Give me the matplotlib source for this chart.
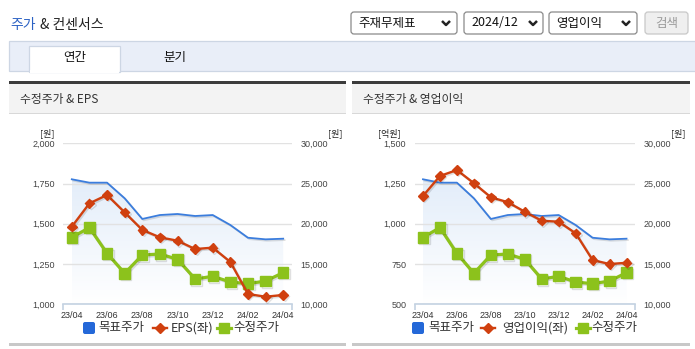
import numpy as np
import matplotlib
matplotlib.use("Agg")
import matplotlib.pyplot as plt
from matplotlib.patches import Rectangle, FancyBboxPatch, Polygon
from matplotlib.lines import Line2D
from matplotlib.transforms import Affine2D
from matplotlib.colors import LinearSegmentedColormap
import matplotlib.patheffects as pe

plt.rcParams['font.family'] = ['Noto Sans CJK KR', 'DejaVu Sans']

# ---------------- data ----------------
months = ["23/04", "23/05", "23/06", "23/07", "23/08", "23/09", "23/10",
          "23/11", "23/12", "24/01", "24/02", "24/03", "24/04"]
tick_labels = ["23/04", "23/06", "23/08", "23/10", "23/12", "24/02", "24/04"]
target_price = [25530, 25110, 25110, 23170, 20600, 21090, 21220,
                20970, 21090, 19850, 18270, 18070, 18150]
adj_price = [18320, 19520, 16330, 13850, 16120, 16250, 15590,
             13140, 13480, 12770, 12560, 12890, 13930]
eps = [1482, 1627, 1679, 1571, 1462, 1416, 1395,
       1343, 1352, 1263, 1064, 1047, 1058]
op_profit = [1173, 1297, 1334, 1252, 1165, 1134, 1075,
             1019, 1013, 941, 775, 750, 758]

left_ticks_eps = [1000, 1250, 1500, 1750, 2000]
left_ticks_op = [500, 750, 1000, 1250, 1500]
right_ticks = [10000, 15000, 20000, 25000, 30000]

W, H = 695, 349
fig = plt.figure(figsize=(W / 100, H / 100), dpi=100)
fig.patch.set_facecolor("white")
pix = Affine2D().scale(1 / W, -1 / H).translate(0, 1) + fig.transFigure

def R(x0, y0, x1, y1, **kw):
    fig.add_artist(Rectangle((x0, y0), x1 - x0, y1 - y0, transform=pix, **kw))

def T(x, y, s, **kw):
    kw.setdefault("va", "center")
    fig.text(x, y, s, transform=pix, **kw)

# ---------------- header ----------------
T(10, 25, "주가", fontsize=10, color="#2c62c4")
T(40, 25, "& 컨센서스", fontsize=10, color="#222222")

def dropdown(x0, x1, text, chev):
    fig.add_artist(FancyBboxPatch((x0, 12), x1 - x0, 22,
                                  boxstyle="round,pad=0,rounding_size=3",
                                  transform=pix, facecolor="white",
                                  edgecolor="#8a8a8a", linewidth=0.9))
    T(x0 + 7, 23, text, fontsize=9, color="#111111")
    fig.add_artist(Line2D([chev - 4, chev, chev + 4], [21, 25, 21], transform=pix,
                          color="#222222", linewidth=1.8, solid_capstyle="butt"))

dropdown(351, 457, "주재무제표", 446)
dropdown(464, 543, "2024/12", 533)
dropdown(549, 637, "영업이익", 626)
fig.add_artist(FancyBboxPatch((645, 12), 43, 22,
                              boxstyle="round,pad=0,rounding_size=3",
                              transform=pix, facecolor="#efefef",
                              edgecolor="#c8c8c8", linewidth=0.9))
T(666.5, 23, "검색", fontsize=9, color="#9a9a9a", ha="center")

# tab bar
R(9, 41, 700, 71, facecolor="#e9eef8", edgecolor="#cdd6e4", linewidth=0.9)
R(29, 46, 120, 72, facecolor="white", edgecolor="#cdd6e4", linewidth=0.9)
R(29.6, 70, 119.4, 73, facecolor="white", edgecolor="none")
T(75, 58, "연간", fontsize=9, color="#111111", ha="center")
T(175, 58, "분기", fontsize=9, color="#111111", ha="center")

# panels
for (px0, px1, title) in [(9, 346, "수정주가 & EPS"), (352, 690, "수정주가 & 영업이익")]:
    R(px0, 81, px1, 83.5, facecolor="#3c3c3c", edgecolor="none")
    R(px0, 83.5, px1, 113, facecolor="#f3f3f3", edgecolor="none")
    R(px0, 112.5, px1, 113.7, facecolor="#d8d8d8", edgecolor="none")
    R(px0, 343, px1, 345.5, facecolor="#c8c8c8", edgecolor="none")
    T(px0 + 11, 99, title, fontsize=8.5, color="#333333")

blue = "#3b7ddd"
red = "#d0400f"
green = "#8cc21c"
tickfont = dict(family=["Liberation Sans", "DejaVu Sans"], size=6.5)
shadow = [pe.SimpleLineShadow(offset=(1, -1), shadow_color="#000000", alpha=0.12), pe.Normal()]

def make_chart(x0, x1, left_vals, left_ticks, left_name, left_unit, lx_unit, rx_unit, legend_pos):
    y_top, y_bot = 143.3, 304.3
    axR = fig.add_axes([x0 / W, 1 - y_bot / H, (x1 - x0) / W, (y_bot - y_top) / H])
    axL = axR.twinx()
    x = np.arange(len(months))

    axR.set_xlim(-0.5, len(months) - 0.5)
    axR.set_ylim(right_ticks[0], right_ticks[-1])
    axL.set_ylim(left_ticks[0], left_ticks[-1])

    # gradient fill under target price
    cmap = LinearSegmentedColormap.from_list("g", ["#ffffff", "#dbe8f8"])
    grad = np.linspace(1, 0, 256).reshape(-1, 1)
    im = axR.imshow(grad, extent=[x[0], x[-1], right_ticks[0], right_ticks[-1]],
                    aspect="auto", cmap=cmap, origin="upper", zorder=0.5)
    verts = list(zip(x, target_price)) + [(x[-1], right_ticks[0]), (x[0], right_ticks[0])]
    poly = Polygon(verts, closed=True, facecolor="none", edgecolor="none",
                   transform=axR.transData)
    axR.add_patch(poly)
    im.set_clip_path(poly)
    axR.set_xlim(-0.5, len(months) - 0.5)
    axR.set_ylim(right_ticks[0], right_ticks[-1])

    axR.plot(x, target_price, color=blue, linewidth=1.3, zorder=3, path_effects=shadow)
    axR.plot(x, adj_price, color=green, linewidth=2.3, marker="s", markersize=7.5,
             zorder=4, path_effects=shadow)
    axL.plot(x, left_vals, color=red, linewidth=1.7, marker="D", markersize=4.8,
             zorder=4, path_effects=shadow)

    axR.set_yticks(right_ticks)
    axR.set_yticklabels([f"{v:,}" for v in right_ticks])
    axL.set_yticks(left_ticks)
    axL.set_yticklabels([f"{v:,}" for v in left_ticks])
    axR.yaxis.tick_right()
    axL.yaxis.tick_left()
    axR.grid(axis="y", color="#e2e2e2", linewidth=1)
    axR.set_axisbelow(True)
    pos = [months.index(t) for t in tick_labels]
    axR.set_xticks(pos)
    axR.set_xticklabels(tick_labels)
    axR.set_xticks([-0.5, len(months) - 0.5], minor=True)
    for a in (axR, axL):
        for s in a.spines.values():
            s.set_visible(False)
        a.patch.set_visible(False)
    axR.spines["bottom"].set_visible(True)
    axR.spines["bottom"].set_color("#c4d2e2")
    axR.spines["bottom"].set_linewidth(1.2)
    axR.tick_params(axis="x", which="major", length=0, pad=5, labelcolor="#333333")
    axR.tick_params(axis="x", which="minor", length=4, color="#c4d2e2", width=1.2)
    axR.tick_params(axis="y", length=0, pad=6, labelcolor="#444444")
    axL.tick_params(axis="y", length=0, pad=6, labelcolor="#444444")
    for lab in axR.get_xticklabels() + axR.get_yticklabels() + axL.get_yticklabels():
        lab.set_fontfamily(tickfont["family"])
        lab.set_fontsize(tickfont["size"])

    # units
    T(lx_unit, 133, left_unit, fontsize=6.5, color="#222222", ha="center")
    T(rx_unit, 133, "[원]", fontsize=6.5, color="#222222", ha="center")

    # legend
    bx, rx, gx, t1, t2, t3 = legend_pos
    ly = 328
    fig.add_artist(FancyBboxPatch((bx, ly - 6), 12, 12, boxstyle="round,pad=0,rounding_size=2",
                                  transform=pix, facecolor="#2468d8", edgecolor="none"))
    T(t1, ly, "목표주가", fontsize=9, color="#333333")
    fig.add_artist(Line2D([rx - 7, rx + 7], [ly, ly], transform=pix, color=red,
                          linewidth=1.7, marker=None))
    fig.add_artist(Line2D([rx], [ly], transform=pix, color=red, marker="D", markersize=4.8))
    T(t2, ly, left_name, fontsize=9, color="#333333")
    fig.add_artist(Line2D([gx - 7, gx + 7], [ly, ly], transform=pix, color=green, linewidth=2.3))
    fig.add_artist(Line2D([gx], [ly], transform=pix, color=green, marker="s", markersize=7.5))
    T(t3, ly, "수정주가", fontsize=9, color="#333333")

make_chart(63, 292, eps, left_ticks_eps, "EPS(좌)", "[원]", 47, 335,
           (83, 160, 224, 98, 171, 233))
make_chart(414.5, 635, op_profit, left_ticks_op, "영업이익(좌)", "[억원]", 389, 678,
           (412, 488, 583, 428, 502, 591))

fig.savefig("out.png", dpi=100)
